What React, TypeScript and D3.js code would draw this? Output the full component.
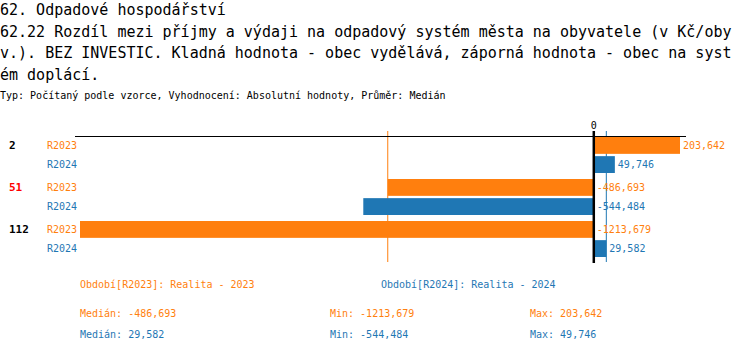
import { useEffect, useRef } from 'react';
import * as d3 from 'd3';

const titleLines = [
  '62. Odpadové hospodářství',
  '62.22 Rozdíl mezi příjmy a výdaji na odpadový systém města na obyvatele (v Kč/oby',
  'v.). BEZ INVESTIC. Kladná hodnota - obec vydělává, záporná hodnota - obec na syst',
  'ém doplácí.',
];
const subtitle = 'Typ: Počítaný podle vzorce, Vyhodnocení: Absolutní hodnoty, Průměr: Medián';

const groups = ['2', '51', '112'];
const highlighted = ['51'];
const seriesKeys = ['R2023', 'R2024'];
const seriesColors = ['#ff7f0e', '#1f77b4'];
const valuesR2023 = [203642, -486693, -1213679];
const valuesR2024 = [49746, -544484, 29582];
const medians = [-486693, 29582];
const legendLabels = ['Období[R2023]: Realita - 2023', 'Období[R2024]: Realita - 2024'];
const statLabels = [
  ['Medián: -486,693', 'Min: -1213,679', 'Max: 203,642'],
  ['Medián: 29,582', 'Min: -544,484', 'Max: 49,746'],
];

// source shows only the last thousands group separated: -1213,679
const fmt = (v: number) => {
  const a = Math.abs(v);
  return (v < 0 ? '-' : '') + Math.floor(a / 1000) + ',' + d3.format('03d')(a % 1000);
};

export default function App() {
  const svgRef = useRef<SVGSVGElement>(null);

  useEffect(() => {
    if (!svgRef.current) return;
    const svg = d3.select(svgRef.current);
    svg.selectAll('*').remove();
    const mono = '"DejaVu Sans Mono", monospace';

    // titles
    svg.append('g').selectAll('text').data(titleLines).join('text')
      .attr('x', 0).attr('y', (_d, i) => 15 + i * 21.5)
      .attr('font-family', mono).attr('font-size', 15).attr('fill', '#000')
      .text(d => d);
    svg.append('text').attr('x', 0).attr('y', 99)
      .attr('font-family', mono).attr('font-size', 10).attr('fill', '#000')
      .text(subtitle);

    const values = [valuesR2023, valuesR2024];
    const x = d3.scaleLinear()
      .domain([d3.min(values.flat()) as number, d3.max(values.flat()) as number])
      .range([80, 680]);
    const yGroup = d3.scaleBand().domain(groups).range([137, 263]);
    const ySeries = d3.scaleBand().domain(seriesKeys).range([0, 36]).paddingInner(0.12);

    const data = groups.flatMap((g, gi) => seriesKeys.map((s, si) => ({
      group: g, key: s, color: seriesColors[si], value: values[si][gi],
    })));

    // median lines, behind bars
    svg.append('g').selectAll('line').data(medians).join('line')
      .attr('x1', d => x(d)).attr('x2', d => x(d))
      .attr('y1', 131).attr('y2', 262)
      .attr('stroke', (_d, i) => seriesColors[i]).attr('stroke-width', 1);

    // top axis line
    svg.append('line').attr('x1', 75).attr('x2', 686).attr('y1', 136.5).attr('y2', 136.5)
      .attr('stroke', '#000').attr('stroke-width', 1);

    // bars
    svg.append('g').selectAll('rect').data(data).join('rect')
      .attr('x', d => Math.min(x(0), x(d.value)))
      .attr('y', d => (yGroup(d.group) as number) + (ySeries(d.key) as number))
      .attr('width', d => Math.abs(x(d.value) - x(0)))
      .attr('height', ySeries.bandwidth())
      .attr('fill', d => d.color);

    // zero line
    svg.append('line').attr('x1', x(0)).attr('x2', x(0)).attr('y1', 131).attr('y2', 263)
      .attr('stroke', '#000').attr('stroke-width', 2.5);
    svg.append('text').attr('x', x(0)).attr('y', 129).attr('text-anchor', 'middle')
      .attr('font-family', mono).attr('font-size', 10).text('0');

    const rowMid = (d: { group: string; key: string }) =>
      (yGroup(d.group) as number) + (ySeries(d.key) as number) + ySeries.bandwidth() / 2;

    // value labels
    svg.append('g').selectAll('text').data(data).join('text')
      .attr('x', d => (d.value > 0 ? x(d.value) : x(0)) + 3)
      .attr('y', rowMid).attr('dy', '0.35em')
      .attr('font-family', mono).attr('font-size', 10).attr('fill', d => d.color)
      .text(d => fmt(d.value));

    // series labels
    svg.append('g').selectAll('text').data(data).join('text')
      .attr('x', 47).attr('y', rowMid).attr('dy', '0.35em')
      .attr('font-family', mono).attr('font-size', 10).attr('fill', d => d.color)
      .text(d => d.key);

    // group labels
    svg.append('g').selectAll('text').data(groups).join('text')
      .attr('x', 9)
      .attr('y', g => rowMid({ group: g, key: seriesKeys[0] })).attr('dy', '0.35em')
      .attr('font-family', mono).attr('font-size', 11).attr('font-weight', 'bold')
      .attr('fill', g => (highlighted.includes(g) ? '#ff0000' : '#000'))
      .text(g => g);

    // legend
    svg.append('g').selectAll('text').data(legendLabels).join('text')
      .attr('x', (_d, i) => 80 + i * 301).attr('y', 288)
      .attr('font-family', mono).attr('font-size', 10).attr('fill', (_d, i) => seriesColors[i])
      .text(d => d);

    const statX = [80, 330, 530];
    statLabels.forEach((row, ri) => {
      svg.append('g').selectAll('text').data(row).join('text')
        .attr('x', (_d, i) => statX[i]).attr('y', 317 + ri * 21)
        .attr('font-family', mono).attr('font-size', 10).attr('fill', seriesColors[ri])
        .text(d => d);
    });
  }, []);

  return (
    <svg ref={svgRef} width={750} height={352}
      style={{ position: 'absolute', left: 0, top: 0, background: '#fff' }} />
  );
}
